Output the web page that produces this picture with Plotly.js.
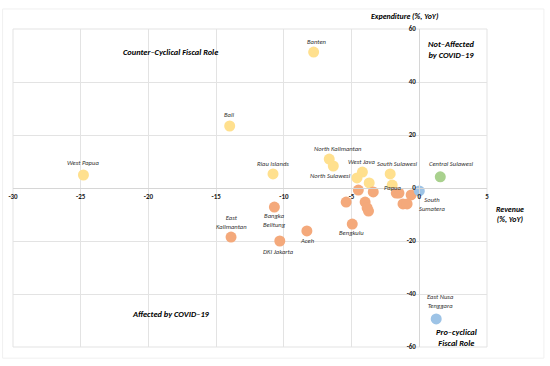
<!DOCTYPE html>
<html>
<head>
<meta charset="utf-8">
<script src="https://cdn.plot.ly/plotly-3.0.1.min.js"></script>
<style>html,body{margin:0;padding:0;background:#fff;}#chart{width:550px;height:366px;}</style>
</head>
<body>
<div id="chart"></div>
<script>
// ---- data (Revenue %YoY on x, Expenditure %YoY on y) ----
var xRange = [-30, 5];
var yRange = [-60, 60];
var xTicks = [-30, -25, -20, -15, -10, -5, 0, 5];
var yTicks = [-60, -40, -20, 0, 20, 40, 60];

var yellowNames = ["Banten", "Bali", "West Papua", "Riau Islands", "North Kalimantan", "North Sulawesi", "West Java", "", "", "South Sulawesi", "Papua"];
var yellowX = [-7.8, -14.0, -24.8, -10.8, -6.65, -6.35, -4.2, -4.6, -3.7, -2.15, -2.0];
var yellowY = [51.3, 23.4, 4.9, 5.3, 10.9, 8.3, 6.0, 3.8, 1.9, 5.3, 1.1];

var orangeNames = ["Bengkulu", "Aceh", "DKI Jakarta", "Bangka<br>Belitung", "East<br>Kalimantan", "", "", "", "", "", "", "", "", "", "", ""];
var orangeX = [-4.95, -8.3, -10.3, -10.7, -13.9, -4.5, -3.4, -5.4, -4.0, -3.85, -3.75, -1.7, -1.5, -0.6, -1.2, -0.9];
var orangeY = [-13.6, -16.2, -20.0, -7.2, -18.5, -0.8, -1.5, -5.3, -5.3, -7.5, -8.7, -1.9, -1.9, -2.6, -6.0, -6.0];

var greenNames = ["Central Sulawesi"];
var greenX = [1.55];
var greenY = [4.2];

var blueNames = ["South<br>Sumatera", "East Nusa<br>Tenggara"];
var blueX = [0.0, 1.25];
var blueY = [-1.1, -49.4];

// ---- styling ----
var FONT = "Carlito, Lato, sans-serif";
var labelOffsets = {
  "Banten": [3, -10], "Bali": [-1, -11], "West Papua": [0, -12], "Riau Islands": [0, -10],
  "North Kalimantan": [9, -10], "North Sulawesi": [-3, 10], "West Java": [-1, -10],
  "South Sulawesi": [7, -10], "Papua": [0, 3], "Central Sulawesi": [11, -13],
  "South<br>Sumatera": [13, 14], "East Nusa<br>Tenggara": [4, -17], "Bengkulu": [-1, 9],
  "Aceh": [1, 10], "DKI Jakarta": [-1, 11], "Bangka<br>Belitung": [0, 13], "East<br>Kalimantan": [0, -15]
};

function series(xs, ys, color) {
  return {
    type: "scatter", mode: "markers", x: xs, y: ys, hoverinfo: "skip",
    marker: {size: 11, color: color, line: {width: 0}}
  };
}

var traces = [
  series(yellowX, yellowY, "#FFE08E"),
  series(orangeX, orangeY, "#F4A97B"),
  series(greenX, greenY, "#A9D18E"),
  series(blueX, blueY, "#9DC3E6")
];

var annotations = [];
function addLabels(names, xs, ys) {
  for (var i = 0; i < names.length; i++) {
    if (!names[i]) continue;
    var off = labelOffsets[names[i]] || [0, -10];
    annotations.push({
      x: xs[i], y: ys[i], xref: "x", yref: "y", text: names[i], showarrow: false,
      xshift: off[0], yshift: -off[1],
      font: {family: FONT, size: 6.6, color: "#333333", style: "italic"}
    });
  }
}
addLabels(yellowNames, yellowX, yellowY);
addLabels(orangeNames, orangeX, orangeY);
addLabels(greenNames, greenX, greenY);
addLabels(blueNames, blueX, blueY);

var boldIt = {family: FONT, size: 8.4, color: "#000000", weight: "bold", style: "italic"};
function paperText(text, x, y, font) {
  annotations.push({xref: "paper", yref: "paper", x: x, y: y, text: text, showarrow: false,
    xanchor: "center", yanchor: "middle", font: font});
}
paperText("Counter–Cyclical Fiscal Role", 0.333, 0.928, boldIt);
paperText("Not–Affected<br>by COVID–19", 0.923, 0.934, boldIt);
paperText("Affected by COVID–19", 0.333, 0.104, boldIt);
paperText("Pro–cyclical<br>Fiscal Role", 0.936, 0.031, boldIt);
var titleFont = {family: FONT, size: 7.9, color: "#000000", weight: "bold", style: "italic"};
paperText("Expenditure (%, YoY)", 0.826, 1.041, titleFont);
paperText("Revenue<br>(%, YoY)", 1.048, 0.4167, titleFont);

var grid = "#E3E3E3";
var tickFont = {family: FONT, size: 7, color: "#1a1a1a", weight: "bold"};
var layout = {
  width: 550, height: 366,
  margin: {l: 13, r: 63, t: 29, b: 19},
  paper_bgcolor: "#ffffff", plot_bgcolor: "#ffffff",
  showlegend: false,
  xaxis: {
    range: xRange, tickvals: xTicks, ticktext: xTicks.map(String),
    anchor: "free", position: (0 - yRange[0]) / (yRange[1] - yRange[0]),
    showgrid: true, gridcolor: grid, gridwidth: 1, zeroline: false,
    showline: true, linecolor: "#D6D6D6", linewidth: 1, ticks: "",
    tickfont: tickFont, ticklabelstandoff: 2, fixedrange: true
  },
  yaxis: {
    range: yRange, tickvals: yTicks, ticktext: yTicks.map(String),
    anchor: "free", position: (0 - xRange[0]) / (xRange[1] - xRange[0]), side: "left",
    showgrid: true, gridcolor: grid, gridwidth: 1, zeroline: false,
    showline: true, linecolor: "#D6D6D6", linewidth: 1, ticks: "",
    tickfont: tickFont, ticklabelstandoff: 2, fixedrange: true
  },
  shapes: [
    {type: "rect", xref: "paper", yref: "paper", x0: 0, x1: 1, y0: 0, y1: 1,
     line: {color: grid, width: 1}, layer: "below"},
    {type: "rect", xref: "paper", yref: "paper", x0: -0.022, x1: 1.12, y0: -0.035, y1: 1.063,
     line: {color: "#F0F0F0", width: 1}, layer: "below"}
  ],
  annotations: annotations
};

Plotly.newPlot("chart", traces, layout, {staticPlot: true, displayModeBar: false});
</script>
</body>
</html>
